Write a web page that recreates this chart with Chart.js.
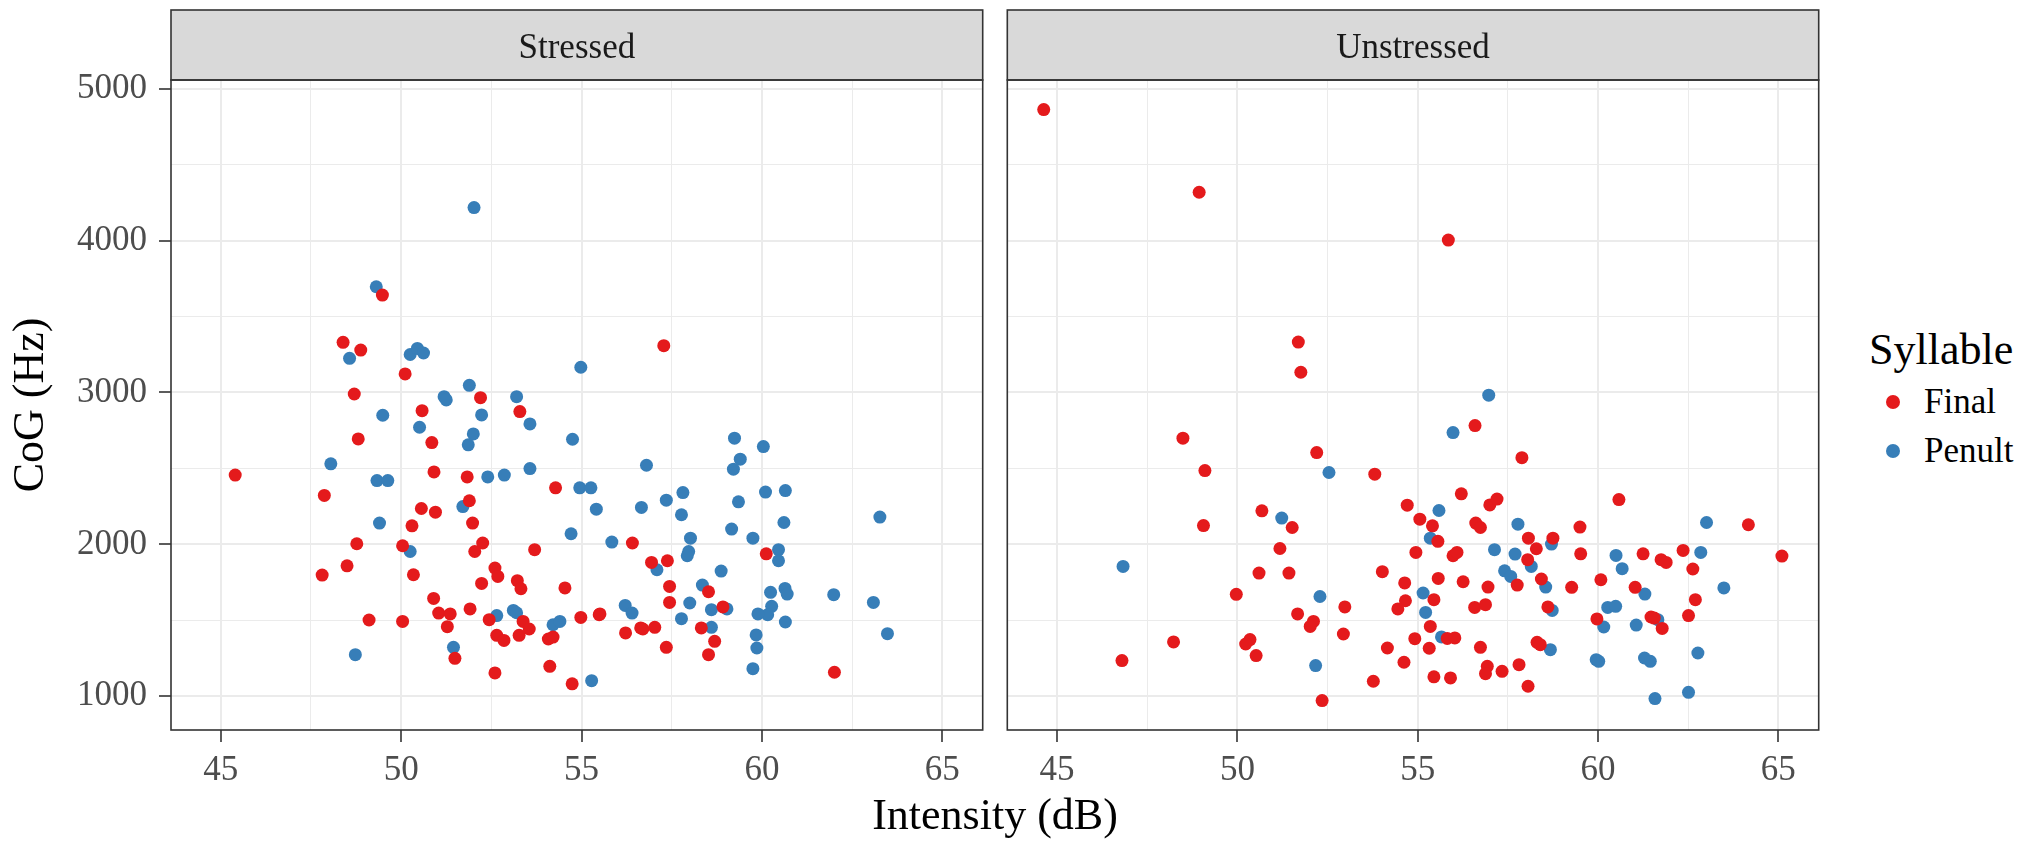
<!DOCTYPE html>
<html>
<head>
<meta charset="utf-8">
<script src="https://cdn.jsdelivr.net/npm/chart.js@4.4.0/dist/chart.umd.min.js"></script>
<style>
  body { margin: 0; background: #fff; width: 2035px; height: 842px; position: relative; overflow: hidden; font-family: "Liberation Serif", serif; }
  canvas { position: absolute; top: 0; }
  #cLeft { left: 0; }
  #cRight { left: 995px; }
  .txt { position: absolute; white-space: nowrap; color: #000; font-family: "Liberation Serif", "DejaVu Serif", serif; }
  #xTitle { left: 0; width: 1990px; top: 793px; text-align: center; font-size: 44px; line-height: 44px; }
  #legTitle { left: 1869px; top: 328px; font-size: 44px; line-height: 44px; }
  .legItem { left: 1924px; font-size: 35px; line-height: 35px; }
  .dot { position: absolute; width: 14px; height: 14px; border-radius: 50%; left: 1886px; }
</style>
</head>
<body>
<canvas id="cLeft" width="992" height="842"></canvas>
<canvas id="cRight" width="832" height="842"></canvas>
<div id="xTitle" class="txt">Intensity (dB)</div>
<div id="legend"></div>
<script>
// facets and series
const panels = ["Stressed", "Unstressed"];
const syllables = ["Final", "Penult"];
const colors = ["#E41A1C", "#377EB8"];

// axis ticks
const xTicks = [45, 50, 55, 60, 65];
const xMinor = [47.5, 52.5, 57.5, 62.5];
const yTicks = [1000, 2000, 3000, 4000, 5000];
const yMinor = [1500, 2500, 3500, 4500];

// Stressed - Final
const stressedFinalX = [49.48, 48.39, 48.88, 50.11, 48.70, 52.20, 53.29, 50.58, 57.28, 48.81, 50.85, 45.40, 50.91, 51.83, 47.87, 54.28, 51.89, 50.56, 50.95, 51.98, 50.30, 48.77, 50.04, 52.26, 52.04, 53.70, 48.50, 47.81, 50.34, 52.60, 52.68, 53.22, 53.32, 52.23, 54.54, 50.90, 51.04, 51.36, 51.28, 51.91, 52.44, 49.11, 50.04, 53.38, 53.55, 53.27, 52.65, 52.85, 54.08, 54.21, 54.98, 55.49, 51.49, 54.12, 52.60, 54.74, 56.41, 60.12, 56.94, 57.38, 57.44, 58.52, 57.44, 58.92, 55.51, 56.22, 56.64, 56.70, 57.03, 58.32, 58.69, 57.35, 58.52, 62.01];
const stressedFinalY = [3641, 3330, 3279, 3122, 2990, 2966, 2874, 2880, 3308, 2694, 2670, 2456, 2477, 2444, 2322, 2372, 2287, 2236, 2212, 2140, 2122, 2004, 1991, 2009, 1953, 1965, 1859, 1798, 1800, 1844, 1789, 1761, 1708, 1743, 1713, 1644, 1548, 1542, 1458, 1575, 1504, 1502, 1493, 1493, 1443, 1401, 1401, 1368, 1377, 1390, 1519, 1537, 1250, 1197, 1154, 1082, 2009, 1938, 1881, 1892, 1723, 1688, 1618, 1588, 1542, 1417, 1450, 1443, 1454, 1450, 1362, 1322, 1274, 1158];

// Stressed - Penult
const stressedPenultX = [52.02, 49.31, 48.57, 50.25, 50.45, 50.62, 51.89, 51.19, 51.25, 53.20, 49.49, 52.23, 54.98, 53.57, 50.51, 52.00, 51.86, 54.75, 48.05, 52.40, 52.86, 53.57, 49.33, 49.63, 54.95, 55.26, 55.41, 51.71, 49.40, 54.71, 50.25, 52.65, 53.11, 53.20, 54.21, 54.40, 48.73, 51.45, 55.28, 59.24, 60.04, 59.40, 59.21, 56.80, 60.10, 60.65, 57.81, 57.35, 56.66, 59.35, 57.77, 63.27, 60.61, 59.16, 58.02, 59.75, 55.84, 57.97, 57.93, 60.46, 60.46, 57.09, 58.87, 58.35, 60.64, 60.70, 60.24, 61.99, 63.09, 58.00, 56.21, 56.40, 59.03, 58.60, 60.27, 60.16, 59.89, 57.77, 60.65, 58.60, 59.84, 59.86, 63.48, 59.75];
const stressedPenultY = [4217, 3696, 3225, 3250, 3290, 3260, 3047, 2972, 2951, 2972, 2850, 2852, 3166, 2793, 2771, 2727, 2655, 2692, 2530, 2444, 2456, 2499, 2420, 2420, 2372, 2372, 2232, 2249, 2140, 2070, 1953, 1531, 1565, 1550, 1471, 1493, 1274, 1322, 1103, 2699, 2644, 2561, 2495, 2521, 2344, 2354, 2341, 2291, 2243, 2280, 2195, 2180, 2144, 2101, 2041, 2041, 2015, 1953, 1925, 1965, 1892, 1833, 1824, 1732, 1710, 1673, 1684, 1669, 1618, 1614, 1598, 1548, 1575, 1570, 1592, 1537, 1542, 1511, 1489, 1454, 1404, 1318, 1412, 1182];

// Unstressed - Final
const unstressedFinalX = [44.63, 48.94, 51.69, 51.76, 55.85, 56.59, 57.89, 56.21, 54.71, 57.00, 57.20, 60.58, 55.06, 55.41, 56.61, 56.74, 64.17, 59.50, 55.56, 58.07, 58.75, 58.29, 54.95, 55.98, 56.09, 59.52, 61.25, 62.36, 65.10, 58.05, 61.75, 61.89, 62.63, 54.64, 55.57, 56.26, 57.76, 56.95, 58.43, 60.08, 59.27, 61.03, 54.66, 54.45, 55.45, 56.58, 56.88, 62.70, 58.61, 62.51, 61.47, 61.56, 59.97, 61.78, 55.35, 55.82, 56.03, 54.92, 55.32, 56.74, 58.31, 58.40, 54.62, 56.93, 56.88, 57.34, 57.81, 55.45, 55.91, 58.06, 48.49, 49.10, 49.06, 52.20, 53.81, 50.68, 51.52, 51.18, 50.60, 51.43, 54.02, 49.97, 52.98, 51.67, 52.11, 52.02, 52.94, 54.16, 53.77, 48.23, 46.80, 50.35, 50.23, 50.52, 52.35];
const unstressedFinalY = [4862, 4318, 3332, 3133, 4003, 2782, 2571, 2333, 2258, 2260, 2298, 2295, 2166, 2122, 2140, 2111, 2129, 2114, 2020, 2041, 2041, 1971, 1947, 1925, 1947, 1938, 1938, 1960, 1923, 1899, 1899, 1881, 1838, 1746, 1776, 1754, 1732, 1719, 1772, 1767, 1717, 1717, 1629, 1575, 1636, 1585, 1603, 1636, 1588, 1531, 1522, 1515, 1509, 1447, 1460, 1381, 1384, 1379, 1316, 1322, 1355, 1340, 1224, 1197, 1149, 1164, 1208, 1128, 1121, 1066, 2699, 2486, 2124, 2604, 2462, 2221, 2111, 1973, 1811, 1811, 1820, 1671, 1588, 1542, 1493, 1460, 1410, 1318, 1099, 1358, 1235, 1373, 1344, 1268, 972];

// Unstressed - Penult
const unstressedPenultX = [56.97, 55.98, 55.59, 57.78, 63.01, 55.35, 58.71, 57.13, 57.70, 60.50, 62.85, 58.15, 60.67, 57.41, 57.58, 58.55, 61.30, 63.49, 55.15, 58.73, 60.27, 60.49, 55.22, 61.66, 60.16, 61.06, 55.66, 58.68, 59.95, 60.02, 61.29, 61.45, 62.77, 61.58, 62.51, 52.54, 51.23, 46.83, 52.29, 52.17];
const unstressedPenultY = [2982, 2736, 2223, 2133, 2144, 2041, 2002, 1965, 1936, 1927, 1947, 1855, 1840, 1826, 1789, 1719, 1673, 1713, 1680, 1565, 1585, 1592, 1552, 1504, 1456, 1469, 1391, 1307, 1241, 1230, 1252, 1230, 1285, 985, 1026, 2473, 2173, 1855, 1657, 1202];

const panelData = [
  [[stressedFinalX, stressedFinalY], [stressedPenultX, stressedPenultY]],
  [[unstressedFinalX, unstressedFinalY], [unstressedPenultX, unstressedPenultY]]
];

Chart.defaults.font.family = '"Liberation Serif", serif';

// strip label on top and the panel frame
const stripPlugin = {
  id: "strip",
  afterDraw(chart, args, opts) {
    const { ctx, chartArea: a } = chart;
    ctx.save();
    ctx.fillStyle = "#D9D9D9";
    ctx.fillRect(a.left, 10, a.right - a.left, a.top - 10);
    ctx.strokeStyle = "#333333";
    ctx.lineWidth = 1.6;
    ctx.strokeRect(a.left, 10, a.right - a.left, a.top - 10);
    ctx.strokeRect(a.left, a.top, a.right - a.left, a.bottom - a.top);
    ctx.fillStyle = "#1A1A1A";
    ctx.font = '35px "Liberation Serif"';
    ctx.textAlign = "center";
    ctx.textBaseline = "alphabetic";
    ctx.fillText(opts.label, (a.left + a.right) / 2, 58);
    ctx.restore();
  }
};

function gridOpts(major) {
  return {
    color: "#EBEBEB",
    lineWidth: c => major.includes(c.tick.value) ? 2 : 1,
    drawTicks: true,
    tickLength: 12,
    tickWidth: 1.6,
    tickColor: c => major.includes(c.tick.value) ? "#333333" : "rgba(0,0,0,0)"
  };
}

function makePanel(canvasId, p, showY, yWidth, padRight) {
  const datasets = syllables.map((s, i) => ({
    label: s,
    data: panelData[p][i][0].map((x, j) => ({ x: x, y: panelData[p][i][1][j] })),
    backgroundColor: colors[i],
    borderWidth: 0,
    pointRadius: 6.5,
    pointHoverRadius: 6.5
  }));

  return new Chart(document.getElementById(canvasId), {
    type: "scatter",
    data: { datasets },
    plugins: [stripPlugin],
    options: {
      responsive: false,
      animation: false,
      events: [],
      layout: { padding: { top: 80, right: padRight, left: 0, bottom: 0 } },
      plugins: {
        legend: { display: false },
        tooltip: { enabled: false },
        strip: { label: panels[p] }
      },
      scales: {
        x: {
          type: "linear",
          min: 43.62,
          max: 66.12,
          afterBuildTicks: s => { s.ticks = xTicks.concat(xMinor).sort((a, b) => a - b).map(v => ({ value: v })); },
          afterFit: s => { s.height = 112; },
          border: { display: false },
          grid: gridOpts(xTicks),
          ticks: {
            autoSkip: false,
            maxRotation: 0,
            padding: 8,
            color: "#4D4D4D",
            font: { size: 35 },
            callback: v => xTicks.includes(v) ? String(v) : ""
          }
        },
        y: {
          type: "linear",
          min: 778,
          max: 5057,
          afterBuildTicks: s => { s.ticks = yTicks.concat(yMinor).sort((a, b) => a - b).map(v => ({ value: v })); },
          afterFit: s => { s.width = yWidth; },
          border: { display: false },
          grid: showY ? gridOpts(yTicks) : Object.assign(gridOpts(yTicks), { drawTicks: false }),
          title: {
            display: showY,
            text: "CoG (Hz)",
            color: "#000",
            font: { size: 44 },
            padding: { top: 5, bottom: 0 }
          },
          ticks: {
            display: showY,
            autoSkip: false,
            padding: 12,
            color: "#4D4D4D",
            font: { size: 35 },
            callback: v => yTicks.includes(v) ? String(v) : ""
          }
        }
      }
    }
  });
}

makePanel("cLeft", 0, true, 171, 9.3);
makePanel("cRight", 1, false, 12.3, 8.3);

// legend
const legend = document.getElementById("legend");
let html = '<div id="legTitle" class="txt">Syllable</div>';
syllables.forEach((s, i) => {
  const base = 401.7 + i * 49;
  html += `<span class="dot" style="top:${base - 7}px;background:${colors[i]}"></span>`;
  html += `<div class="txt legItem" style="top:${base - 17.5}px">${s}</div>`;
});
legend.innerHTML = html;
</script>
</body>
</html>
